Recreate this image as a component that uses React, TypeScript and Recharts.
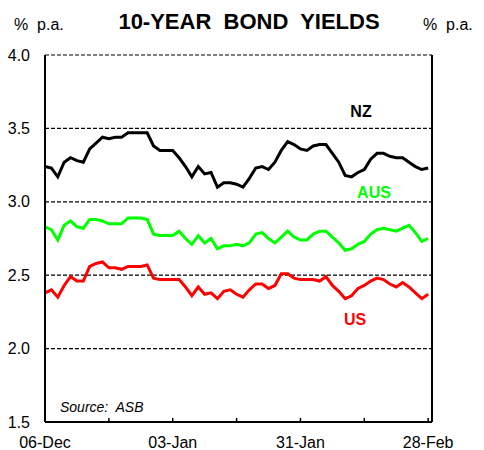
import React from 'react';
import { LineChart, Line, XAxis, YAxis, CartesianGrid } from 'recharts';

const nzYield = [
  3.24, 3.23, 3.17, 3.27, 3.30, 3.28, 3.27, 3.36, 3.40, 3.44,
  3.43, 3.44, 3.44, 3.47, 3.47, 3.47, 3.47, 3.38, 3.35, 3.35,
  3.35, 3.30, 3.24, 3.17, 3.24, 3.19, 3.20, 3.10, 3.13, 3.13,
  3.12, 3.10, 3.16, 3.23, 3.24, 3.22, 3.27, 3.35, 3.41, 3.39,
  3.36, 3.35, 3.38, 3.39, 3.39, 3.33, 3.27, 3.18, 3.17, 3.20,
  3.22, 3.29, 3.33, 3.33, 3.31, 3.30, 3.30, 3.27, 3.24, 3.22,
  3.23,
];

const ausYield = [
  2.83, 2.81, 2.74, 2.84, 2.87, 2.83, 2.82, 2.88, 2.88, 2.87,
  2.85, 2.85, 2.85, 2.89, 2.89, 2.89, 2.88, 2.78, 2.77, 2.77,
  2.77, 2.80, 2.75, 2.71, 2.77, 2.72, 2.75, 2.68, 2.70, 2.70,
  2.71, 2.70, 2.72, 2.78, 2.79, 2.75, 2.72, 2.76, 2.80, 2.76,
  2.74, 2.74, 2.78, 2.80, 2.80, 2.76, 2.72, 2.67, 2.68, 2.71,
  2.73, 2.78, 2.81, 2.82, 2.81, 2.80, 2.82, 2.84, 2.79, 2.73,
  2.75,
];

const usYield = [
  2.38, 2.40, 2.35, 2.43, 2.49, 2.46, 2.46, 2.56, 2.58, 2.59,
  2.55, 2.55, 2.54, 2.56, 2.56, 2.56, 2.57, 2.48, 2.47, 2.47,
  2.47, 2.47, 2.42, 2.36, 2.42, 2.37, 2.38, 2.34, 2.39, 2.40,
  2.37, 2.35, 2.40, 2.44, 2.44, 2.41, 2.43, 2.51, 2.51, 2.48,
  2.47, 2.47, 2.47, 2.46, 2.49, 2.43, 2.39, 2.34, 2.36, 2.41,
  2.43, 2.46, 2.48, 2.47, 2.44, 2.42, 2.45, 2.42, 2.38, 2.34,
  2.37,
];

const xTickPositions = [0, 10, 20, 30, 40, 50, 60];
const xTickLabels = ['06-Dec', '', '03-Jan', '', '31-Jan', '', '28-Feb'];
const yTicks = [1.5, 2.0, 2.5, 3.0, 3.5, 4.0];

const data = nzYield.map((v, i) => ({ i, nz: v, aus: ausYield[i], us: usYield[i] }));

const FONT = '"Liberation Sans", Arial, sans-serif';

const XTick = (props: any) => {
  const { x, y, payload } = props;
  const idx = xTickPositions.indexOf(payload.value);
  const label = idx >= 0 ? xTickLabels[idx] : '';
  return (
    <g>
      <line x1={x} x2={x} y1={y} y2={y - 4} stroke="#000" strokeWidth={1.5} />
      <text x={x} y={y + 26} textAnchor="middle" fontSize={16} fontFamily={FONT} fill="#000">
        {label}
      </text>
    </g>
  );
};

export default function App() {
  return (
    <div style={{ position: 'absolute', left: 0, top: 0, width: 484, height: 450, background: '#fff', fontFamily: FONT }}>
      <LineChart
        width={484}
        height={450}
        data={data}
        margin={{ top: 55, right: 0, bottom: 0, left: 0 }}
      >
        <CartesianGrid yAxisId="left" vertical={false} stroke="#000" strokeWidth={1.2} strokeDasharray="4 2" />
        <XAxis
          dataKey="i"
          type="number"
          domain={[0, 60.6]}
          ticks={xTickPositions}
          interval={0}
          height={28}
          tickSize={0}
          tickMargin={0}
          tickLine={false}
          axisLine={{ stroke: '#000', strokeWidth: 2 }}
          tick={<XTick />}
        />
        <YAxis
          yAxisId="left"
          orientation="left"
          width={45}
          domain={[1.5, 4]}
          ticks={yTicks}
          interval={0}
          tickSize={0}
          tickMargin={15}
          tickLine={false}
          axisLine={{ stroke: '#000', strokeWidth: 2 }}
          tickFormatter={(v: number) => v.toFixed(1)}
          tick={{ fill: '#000', fontSize: 16, fontFamily: FONT }}
        />
        <YAxis
          yAxisId="right"
          orientation="right"
          width={52}
          domain={[1.5, 4]}
          ticks={yTicks}
          interval={0}
          tickSize={0}
          tickMargin={13}
          tickLine={false}
          axisLine={{ stroke: '#000', strokeWidth: 2 }}
          tickFormatter={(v: number) => v.toFixed(1)}
          tick={{ fill: '#000', fontSize: 16, fontFamily: FONT }}
        />
        <Line yAxisId="left" type="linear" dataKey="us" stroke="#ff0000" strokeWidth={3} dot={false} isAnimationActive={false} />
        <Line yAxisId="left" type="linear" dataKey="aus" stroke="#00ff00" strokeWidth={3} dot={false} isAnimationActive={false} />
        <Line yAxisId="left" type="linear" dataKey="nz" stroke="#000000" strokeWidth={3} dot={false} isAnimationActive={false} />
      </LineChart>
      <svg width={484} height={450} style={{ position: 'absolute', left: 0, top: 0, pointerEvents: 'none' }}>
        <text x={249} y={29} textAnchor="middle" fontSize={22} fontWeight="bold" fontFamily={FONT} fill="#000" style={{ whiteSpace: 'pre' }}>
          {'10-YEAR  BOND  YIELDS'}
        </text>
        <text x={14} y={30} fontSize={16} fontFamily={FONT} fill="#000" style={{ whiteSpace: 'pre' }}>{'%  p.a.'}</text>
        <text x={423} y={30} fontSize={16} fontFamily={FONT} fill="#000" style={{ whiteSpace: 'pre' }}>{'%  p.a.'}</text>
        <text x={361} y={117} textAnchor="middle" fontSize={16} fontWeight="bold" fontFamily={FONT} fill="#000">NZ</text>
        <text x={374} y={198} textAnchor="middle" fontSize={16} fontWeight="bold" fontFamily={FONT} fill="#00ff00">AUS</text>
        <text x={355} y={325} textAnchor="middle" fontSize={16} fontWeight="bold" fontFamily={FONT} fill="#ff0000">US</text>
        <text x={60} y={412} fontSize={14} fontStyle="italic" fontFamily={FONT} fill="#000" style={{ whiteSpace: 'pre' }}>{'Source:  ASB'}</text>
      </svg>
    </div>
  );
}
